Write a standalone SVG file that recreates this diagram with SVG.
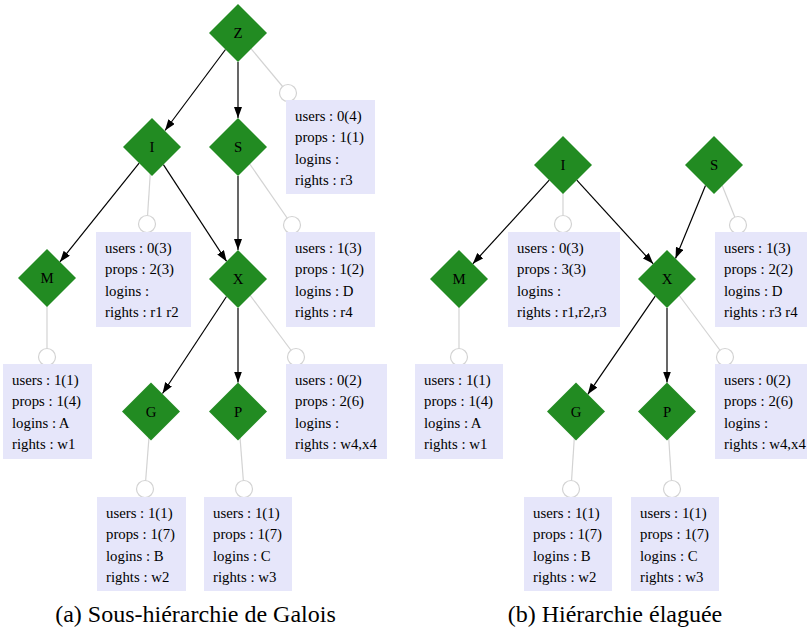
<svg xmlns="http://www.w3.org/2000/svg" width="807" height="632" viewBox="0 0 807 632">
<style>
.d{fill:#228b22}
.dl{font-size:14.8px;fill:#000;text-anchor:middle}
.b{fill:#e6e6fa}
.t{font-size:14.8px;fill:#000}
.c{fill:#fff;stroke:#d3d3d3;stroke-width:1.2}
.g{stroke:#d3d3d3;stroke-width:1.2;fill:none}
.a{stroke:#000;stroke-width:1.2;fill:none;marker-end:url(#ah)}
.cap{font-size:24px;fill:#000;text-anchor:middle}
</style>
<defs>
<marker id="ah" viewBox="0 0 11 8" refX="11" refY="4" markerWidth="11" markerHeight="8" markerUnits="userSpaceOnUse" orient="auto">
<path d="M0,0 L11,4 L0,8 z" fill="#000"/>
</marker>
</defs>
<rect width="807" height="632" fill="#fff"/>
<g id="connectors">
<line class="g" x1="238" y1="33" x2="288" y2="93"/>
<line class="g" x1="152" y1="147" x2="147" y2="224"/>
<line class="g" x1="238" y1="147" x2="292" y2="225"/>
<line class="g" x1="47" y1="278" x2="47" y2="357"/>
<line class="g" x1="238" y1="279" x2="296" y2="357"/>
<line class="g" x1="151" y1="411.5" x2="145" y2="489"/>
<line class="g" x1="238" y1="411.5" x2="244" y2="489"/>
<line class="a" x1="225.5" y1="49.5" x2="165" y2="130.5"/>
<line class="a" x1="238" y1="62" x2="238" y2="118"/>
<line class="a" x1="139.1" y1="163.1" x2="59.9" y2="261.9"/>
<line class="a" x1="163.4" y1="164.6" x2="226.6" y2="261.4"/>
<line class="a" x1="238" y1="176" x2="238" y2="250"/>
<line class="a" x1="226.5" y1="296.5" x2="162.5" y2="393.5"/>
<line class="a" x1="238" y1="308" x2="238" y2="382.5"/>
<line class="g" x1="563" y1="165" x2="563" y2="224"/>
<line class="g" x1="714" y1="165" x2="738" y2="225"/>
<line class="g" x1="459" y1="279" x2="459" y2="357"/>
<line class="g" x1="667" y1="279" x2="725" y2="357"/>
<line class="g" x1="576" y1="411.5" x2="571" y2="489"/>
<line class="g" x1="667" y1="411.5" x2="672" y2="489"/>
<line class="a" x1="549.2" y1="180.2" x2="472.8" y2="263.8"/>
<line class="a" x1="576.8" y1="180.2" x2="653.2" y2="263.8"/>
<line class="a" x1="705.5" y1="185.5" x2="675.5" y2="258.5"/>
<line class="a" x1="655.2" y1="296.2" x2="587.8" y2="394.3"/>
<line class="a" x1="667" y1="308" x2="667" y2="382.5"/>
</g>

<g font-family="Liberation Serif, DejaVu Serif, serif">
<g id="a-Z">
<polygon class="d" points="238,4 267,33 238,62 209,33"/>
<text class="dl" x="238" y="38">Z</text>
<circle class="c" cx="288" cy="93" r="8.5"/>
<rect class="b" x="286" y="100" width="89" height="94"/>
<text class="t" x="295" y="121">users : 0(4)</text>
<text class="t" x="295" y="142.3">props : 1(1)</text>
<text class="t" x="295" y="163.6">logins :</text>
<text class="t" x="295" y="184.9">rights : r3</text>
</g>
<g id="a-I">
<polygon class="d" points="152,118 181,147 152,176 123,147"/>
<text class="dl" x="152" y="152">I</text>
<circle class="c" cx="147" cy="224" r="8.5"/>
<rect class="b" x="96" y="232" width="95" height="95"/>
<text class="t" x="105" y="253">users : 0(3)</text>
<text class="t" x="105" y="274.3">props : 2(3)</text>
<text class="t" x="105" y="295.6">logins :</text>
<text class="t" x="105" y="316.9">rights : r1 r2</text>
</g>
<g id="a-S">
<polygon class="d" points="238,118 267,147 238,176 209,147"/>
<text class="dl" x="238" y="152">S</text>
<circle class="c" cx="292" cy="225" r="8.5"/>
<rect class="b" x="286" y="232" width="89" height="95"/>
<text class="t" x="295" y="253">users : 1(3)</text>
<text class="t" x="295" y="274.3">props : 1(2)</text>
<text class="t" x="295" y="295.6">logins : D</text>
<text class="t" x="295" y="316.9">rights : r4</text>
</g>
<g id="a-M">
<polygon class="d" points="47,249 76,278 47,307 18,278"/>
<text class="dl" x="47" y="283">M</text>
<circle class="c" cx="47" cy="357" r="8.5"/>
<rect class="b" x="3" y="364" width="89" height="95"/>
<text class="t" x="12" y="385">users : 1(1)</text>
<text class="t" x="12" y="406.3">props : 1(4)</text>
<text class="t" x="12" y="427.6">logins : A</text>
<text class="t" x="12" y="448.9">rights : w1</text>
</g>
<g id="a-X">
<polygon class="d" points="238,250 267,279 238,308 209,279"/>
<text class="dl" x="238" y="284">X</text>
<circle class="c" cx="296" cy="357" r="8.5"/>
<rect class="b" x="286" y="364" width="101" height="95"/>
<text class="t" x="295" y="385">users : 0(2)</text>
<text class="t" x="295" y="406.3">props : 2(6)</text>
<text class="t" x="295" y="427.6">logins :</text>
<text class="t" x="295" y="448.9">rights : w4,x4</text>
</g>
<g id="a-G">
<polygon class="d" points="151,382.5 180,411.5 151,440.5 122,411.5"/>
<text class="dl" x="151" y="416.5">G</text>
<circle class="c" cx="145" cy="489" r="8.5"/>
<rect class="b" x="97" y="497" width="89" height="94"/>
<text class="t" x="106" y="518">users : 1(1)</text>
<text class="t" x="106" y="539.3">props : 1(7)</text>
<text class="t" x="106" y="560.6">logins : B</text>
<text class="t" x="106" y="581.9">rights : w2</text>
</g>
<g id="a-P">
<polygon class="d" points="238,382.5 267,411.5 238,440.5 209,411.5"/>
<text class="dl" x="238" y="416.5">P</text>
<circle class="c" cx="244" cy="489" r="8.5"/>
<rect class="b" x="204" y="497" width="88" height="94"/>
<text class="t" x="213" y="518">users : 1(1)</text>
<text class="t" x="213" y="539.3">props : 1(7)</text>
<text class="t" x="213" y="560.6">logins : C</text>
<text class="t" x="213" y="581.9">rights : w3</text>
</g>

<g id="b-I">
<polygon class="d" points="563,136 592,165 563,194 534,165"/>
<text class="dl" x="563" y="170">I</text>
<circle class="c" cx="563" cy="224" r="8.5"/>
<rect class="b" x="508" y="232" width="112" height="95"/>
<text class="t" x="517" y="253">users : 0(3)</text>
<text class="t" x="517" y="274.3">props : 3(3)</text>
<text class="t" x="517" y="295.6">logins :</text>
<text class="t" x="517" y="316.9">rights : r1,r2,r3</text>
</g>
<g id="b-S">
<polygon class="d" points="714,136 743,165 714,194 685,165"/>
<text class="dl" x="714" y="170">S</text>
<circle class="c" cx="738" cy="225" r="8.5"/>
<rect class="b" x="715" y="232" width="92" height="95"/>
<text class="t" x="724" y="253">users : 1(3)</text>
<text class="t" x="724" y="274.3">props : 2(2)</text>
<text class="t" x="724" y="295.6">logins : D</text>
<text class="t" x="724" y="316.9">rights : r3 r4</text>
</g>
<g id="b-M">
<polygon class="d" points="459,250 488,279 459,308 430,279"/>
<text class="dl" x="459" y="284">M</text>
<circle class="c" cx="459" cy="357" r="8.5"/>
<rect class="b" x="415" y="364" width="88" height="95"/>
<text class="t" x="424" y="385">users : 1(1)</text>
<text class="t" x="424" y="406.3">props : 1(4)</text>
<text class="t" x="424" y="427.6">logins : A</text>
<text class="t" x="424" y="448.9">rights : w1</text>
</g>
<g id="b-X">
<polygon class="d" points="667,250 696,279 667,308 638,279"/>
<text class="dl" x="667" y="284">X</text>
<circle class="c" cx="725" cy="357" r="8.5"/>
<rect class="b" x="715" y="364" width="92" height="95"/>
<text class="t" x="724" y="385">users : 0(2)</text>
<text class="t" x="724" y="406.3">props : 2(6)</text>
<text class="t" x="724" y="427.6">logins :</text>
<text class="t" x="724" y="448.9">rights : w4,x4</text>
</g>
<g id="b-G">
<polygon class="d" points="576,382.5 605,411.5 576,440.5 547,411.5"/>
<text class="dl" x="576" y="416.5">G</text>
<circle class="c" cx="571" cy="489" r="8.5"/>
<rect class="b" x="524" y="497" width="88" height="94"/>
<text class="t" x="533" y="518">users : 1(1)</text>
<text class="t" x="533" y="539.3">props : 1(7)</text>
<text class="t" x="533" y="560.6">logins : B</text>
<text class="t" x="533" y="581.9">rights : w2</text>
</g>
<g id="b-P">
<polygon class="d" points="667,382.5 696,411.5 667,440.5 638,411.5"/>
<text class="dl" x="667" y="416.5">P</text>
<circle class="c" cx="672" cy="489" r="8.5"/>
<rect class="b" x="631" y="497" width="88" height="94"/>
<text class="t" x="640" y="518">users : 1(1)</text>
<text class="t" x="640" y="539.3">props : 1(7)</text>
<text class="t" x="640" y="560.6">logins : C</text>
<text class="t" x="640" y="581.9">rights : w3</text>
</g>

<g id="captions">
<text class="cap" x="195.5" y="622">(a) Sous-hiérarchie de Galois</text>
<text class="cap" x="615" y="622">(b) Hiérarchie élaguée</text>
</g>
</g>
</svg>
